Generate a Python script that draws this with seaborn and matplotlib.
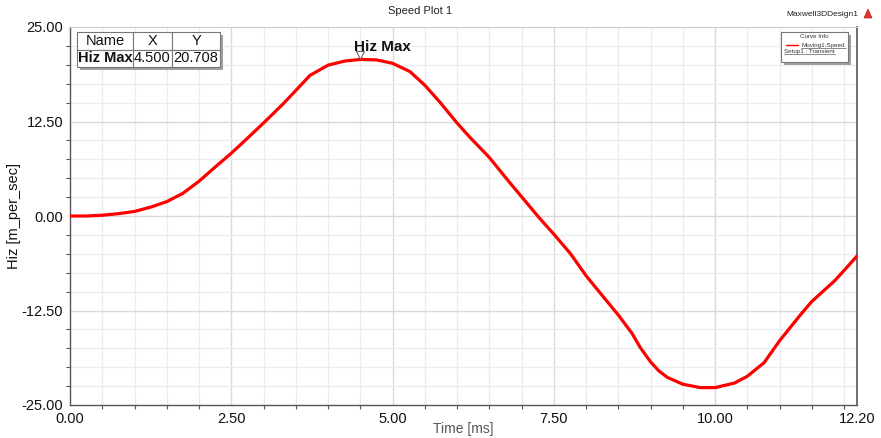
import numpy as np
import pandas as pd
import seaborn as sns
import matplotlib
matplotlib.use("Agg")
import matplotlib.pyplot as plt
from matplotlib.patches import Rectangle, Polygon
from matplotlib.lines import Line2D

# ---- data ----
time_ms = [0, 0.25, 0.5, 0.74, 1.0, 1.26, 1.5, 1.75, 2.0, 2.24, 2.5, 2.74, 3.0, 3.3,
           3.5, 3.72, 4.0, 4.26, 4.5, 4.75, 5.0, 5.27, 5.5, 5.74, 6.0, 6.2, 6.5, 6.77,
           7.0, 7.29, 7.5, 7.76, 8.0, 8.22, 8.5, 8.71, 8.84, 9.0, 9.13, 9.26, 9.5, 9.77,
           10.0, 10.3, 10.5, 10.76, 11.0, 11.33, 11.5, 11.85, 12.0, 12.2]
speed = [0, 0, 0.1, 0.3, 0.6, 1.2, 1.9, 3.0, 4.6, 6.4, 8.3, 10.2, 12.3, 14.8,
         16.6, 18.6, 19.95, 20.5, 20.708, 20.65, 20.2, 19.1, 17.3, 15.0, 12.3, 10.4,
         7.75, 4.9, 2.55, -0.4, -2.4, -5.0, -7.9, -10.2, -13.1, -15.5, -17.4, -19.3,
         -20.5, -21.35, -22.25, -22.7, -22.7, -22.1, -21.2, -19.4, -16.5, -13.0, -11.3,
         -8.6, -7.2, -5.3]
x_ticks = [0.0, 2.5, 5.0, 7.5, 10.0, 12.2]
x_tick_labels = ["0.00", "2.50", "5.00", "7.50", "10.00", "12.20"]
y_ticks = [-25.0, -12.5, 0.0, 12.5, 25.0]
y_tick_labels = ["-25.00", "-12.50", "0.00", "12.50", "25.00"]
marker_name = "Hiz Max"
marker_x = 4.500
marker_y = 20.708
table_cols = ["Name", "X", "Y"]
table_row = ["Hiz Max", "4.500", "20.708"]

df = pd.DataFrame({"Time [ms]": time_ms, "Hiz [m_per_sec]": speed})

sns.set_theme(style="white")
plt.rcParams["font.family"] = ["Liberation Sans", "DejaVu Sans"]

W, H = 881, 438
fig = plt.figure(figsize=(W / 100, H / 100), dpi=100)
L, R, T, B = 70, 857, 27, 405
ax = fig.add_axes([L / W, 1 - B / H, (R - L) / W, (B - T) / H])

# grid
for xv in np.arange(0.5, 12.2, 0.5):
    major = abs(xv / 2.5 - round(xv / 2.5)) < 1e-6
    ax.axvline(xv, color="#d9d9d9" if major else "#ececec", lw=1.0, zorder=0)
for yv in np.arange(-22.5, 25, 2.5):
    major = abs(yv / 12.5 - round(yv / 12.5)) < 1e-6
    ax.axhline(yv, color="#d9d9d9" if major else "#ececec", lw=1.0, zorder=0)

sns.lineplot(data=df, x="Time [ms]", y="Hiz [m_per_sec]", ax=ax, color="#ff0000",
             lw=2.3, sort=False, legend=False, zorder=3)
for ln in ax.lines:
    ln.set_solid_joinstyle("round")

ax.set_xlim(0, 12.2)
ax.set_ylim(-25, 25)
ax.set_xticks(x_ticks)
ax.set_xticklabels(x_tick_labels, fontsize=10.5, color="#111111")
ax.set_yticks(y_ticks)
ax.set_yticklabels(y_tick_labels, fontsize=10.5, color="#111111")
ax.set_xticks(np.arange(0, 12.21, 0.5), minor=True)
ax.set_yticks(np.arange(-25, 25.01, 2.5), minor=True)
ax.tick_params(axis="both", which="both", direction="out", length=3, width=0.8,
               color="#555555", pad=1)
ax.tick_params(axis="both", which="major", length=4)
ax.tick_params(axis="both", which="minor", bottom=True, left=True)
for s in ["left", "bottom"]:
    ax.spines[s].set_color("#555555")
    ax.spines[s].set_linewidth(1.0)
ax.spines["right"].set_color("#555555")
ax.spines["right"].set_linewidth(1.2)
ax.spines["top"].set_color("#cccccc")
ax.spines["top"].set_linewidth(0.8)

ax.set_xlabel("Time [ms]", fontsize=10, color="#555555")
ax.xaxis.set_label_coords((463 - L) / (R - L), -(422 - B) / (B - T))
ax.set_ylabel("Hiz [m_per_sec]", fontsize=10.5, color="#111111", labelpad=0)

# marker
ax.plot([marker_x], [marker_y + 0.55], marker="v", ms=6, mfc="white", mec="#666666",
        mew=0.8, zorder=5, clip_on=False)
ax.text(4.85, 22.4, marker_name, fontsize=11, fontweight="bold",
        ha="center", va="center", color="#111111", zorder=6)

# marker table (top left)
tx0, ty0 = 77, 32
col_w = [56, 39, 48]
row_h = [18, 17]
fig.patches.append(Rectangle(((tx0 + 3) / W, 1 - (ty0 + sum(row_h) + 3) / H),
                             sum(col_w) / W, sum(row_h) / H, transform=fig.transFigure,
                             facecolor="#a0a0a0", edgecolor="none", zorder=8))
cx = tx0
for ci, w in enumerate(col_w):
    cy = ty0
    for ri, h in enumerate(row_h):
        fig.patches.append(Rectangle((cx / W, 1 - (cy + h) / H), w / W, h / H,
                                     transform=fig.transFigure, facecolor="white",
                                     edgecolor="#777777", lw=0.8, zorder=9))
        txt = table_cols[ci] if ri == 0 else table_row[ci]
        fw = "bold" if (ri == 1 and ci == 0) else "normal"
        fig.text((cx + w / 2) / W, 1 - (cy + h / 2) / H, txt, fontsize=10.5,
                 fontweight=fw, ha="center", va="center", color="#111111", zorder=10)
        cy += h
    cx += w

# curve info box (top right)
bx0, by0, bw, bh = 781, 32, 67, 30
fig.patches.append(Rectangle(((bx0 + 3) / W, 1 - (by0 + bh + 3) / H), bw / W, bh / H,
                             transform=fig.transFigure, facecolor="#a0a0a0",
                             edgecolor="none", zorder=8))
fig.patches.append(Rectangle((bx0 / W, 1 - (by0 + bh) / H), bw / W, bh / H,
                             transform=fig.transFigure, facecolor="white",
                             edgecolor="#777777", lw=0.8, zorder=9))
fig.text((bx0 + bw / 2) / W, 1 - 37 / H, "Curve Info", fontsize=4.5, ha="center",
         va="center", color="#333333", zorder=10)
fig.lines.append(Line2D([786 / W, 798 / W], [1 - 45 / H, 1 - 45 / H],
                        transform=fig.transFigure, color="#ff0000", lw=1.0, zorder=10))
fig.text(801 / W, 1 - 45 / H, "Moving1.Speed", fontsize=4.5, ha="left", va="center",
         color="#333333", zorder=10)
fig.text(784 / W, 1 - 51 / H, "Setup1 : Transient", fontsize=4.5, ha="left",
         va="center", color="#333333", zorder=10)
fig.lines.append(Line2D([801 / W, 846 / W], [1 - 47.5 / H, 1 - 47.5 / H],
                        transform=fig.transFigure, color="#333333", lw=0.4, zorder=10))
fig.lines.append(Line2D([784 / W, 835 / W], [1 - 53.5 / H, 1 - 53.5 / H],
                        transform=fig.transFigure, color="#333333", lw=0.4, zorder=10))

# titles
fig.text(420 / W, 1 - 11 / H, "Speed Plot 1", fontsize=8, ha="center", va="center",
         color="#222222")
fig.text(858 / W, 1 - 14 / H, "Maxwell3DDesign1", fontsize=6, ha="right", va="center",
         color="#222222")
fig.patches.append(Polygon([[864 / W, 1 - 18 / H], [872 / W, 1 - 18 / H],
                            [868 / W, 1 - 9 / H]], closed=True,
                           transform=fig.transFigure, facecolor="#e03030",
                           edgecolor="#c02020", lw=0.5))

fig.savefig("out.png", dpi=100, facecolor="white")
